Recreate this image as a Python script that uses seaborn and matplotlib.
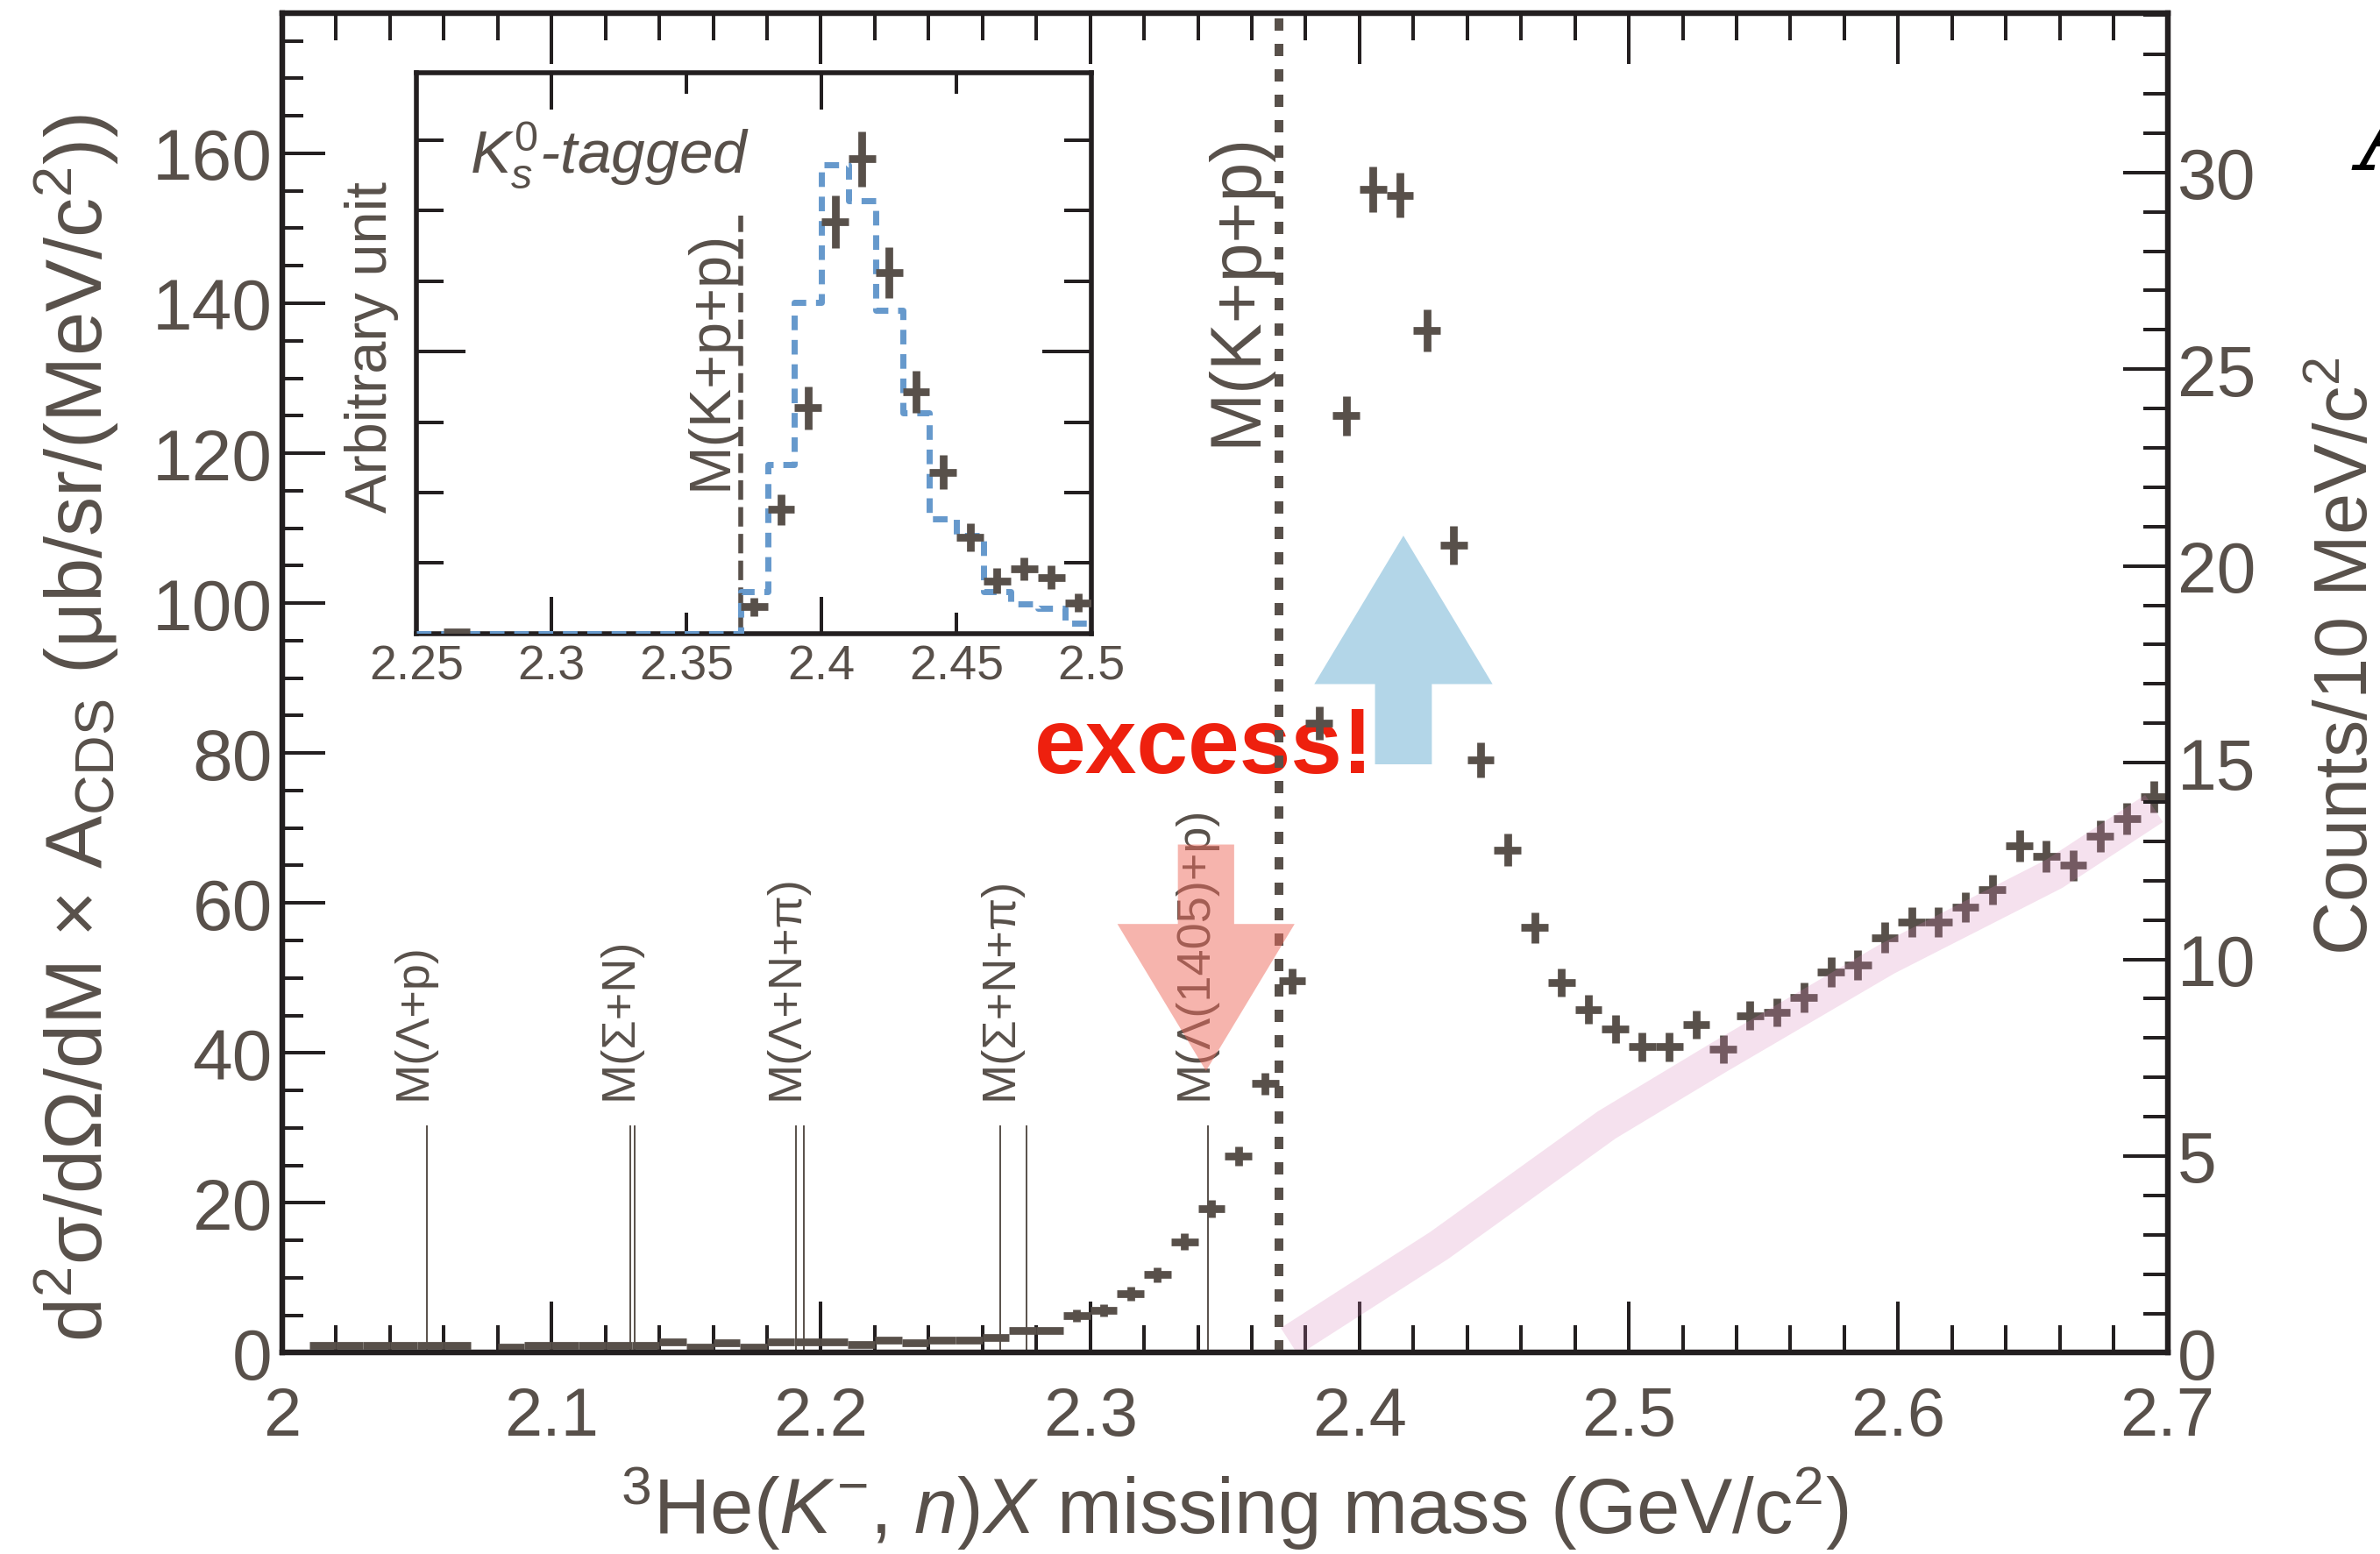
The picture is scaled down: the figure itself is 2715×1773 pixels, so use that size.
"""
Missing-mass spectrum of 3He(K-, n)X with K_s^0-tagged inset.
"""

import matplotlib
matplotlib.use("Agg")
import matplotlib.pyplot as plt
import seaborn as sns
from matplotlib.patches import FancyArrow
from matplotlib.ticker import MultipleLocator, FuncFormatter

# ── main spectrum (10 MeV bins) ─────────────────────────────────────────
mass = [2.005, 2.015, 2.025, 2.035, 2.045, 2.055, 2.065, 2.075, 2.085, 2.095,
        2.105, 2.115, 2.125, 2.135, 2.145, 2.155, 2.165, 2.175, 2.185, 2.195,
        2.205, 2.215, 2.225, 2.235, 2.245, 2.255, 2.265, 2.275, 2.285, 2.295,
        2.305, 2.315, 2.325, 2.335, 2.345, 2.355, 2.365, 2.375, 2.385, 2.395,
        2.405, 2.415, 2.425, 2.435, 2.445, 2.455, 2.465, 2.475, 2.485, 2.495,
        2.505, 2.515, 2.525, 2.535, 2.545, 2.555, 2.565, 2.575, 2.585, 2.595,
        2.605, 2.615, 2.625, 2.635, 2.645, 2.655, 2.665, 2.675, 2.685, 2.695]
xsec = [-0.3, 1.0, 1.0, 1.0, 1.0, 1.0, 1.0, -0.2, 0.7, 1.0,
        1.0, 1.0, 1.0, 1.0, 1.5, 0.7, 1.3, 0.7, 1.5, 1.5,
        1.5, 1.1, 1.7, 1.3, 1.7, 1.7, 2.0, 3.0, 3.0, 5.0,
        5.7, 7.9, 10.4, 14.8, 19.2, 26.2, 35.9, 49.6, 84.0, 125.0,
        155.2, 154.4, 136.4, 107.7, 79.1, 67.1, 56.7, 49.4, 45.8, 43.2,
        40.8, 40.8, 43.8, 40.5, 45.0, 45.4, 47.4, 50.8, 51.7, 55.4,
        57.5, 57.5, 59.4, 61.8, 67.6, 66.2, 65.0, 68.9, 71.3, 74.2]
xsec_err = [0.3] * 29 + [0.8, 0.8, 0.9, 1.0, 1.1, 1.2, 1.3, 1.5, 1.7, 2.2,
                         2.6, 3.0, 3.0, 2.8, 2.6, 2.3, 2.2, 2.0, 1.9, 1.9,
                         1.9, 1.9, 1.9, 1.9, 1.9, 1.9, 1.9, 2.0, 2.0, 2.0,
                         2.0, 2.0, 2.0, 2.0, 2.0, 2.1, 2.1, 2.1, 2.1, 2.1,
                         2.1]

# pink band (smooth background shape)
band_mass = [2.374, 2.4295, 2.4918, 2.5334, 2.5957, 2.658, 2.695]
band_xsec = [1.5, 14.3, 30.4, 39.4, 52.5, 63.9, 72.6]

# thresholds (GeV/c^2), grouped per label
thr_groups = [[2.0538], [2.1292, 2.1309], [2.1907, 2.1936],
              [2.2667, 2.2763], [2.3437]]
thr_labels = ["M(Λ+p)", "M(Σ+N)", "M(Λ+N+π)", "M(Σ+N+π)", "M(Λ(1405)+p)"]
thr_top = 30.3
kpp_mass = 2.370

# ── inset: K_s^0-tagged ────────────────────────────────────────────────
inset_mass = [2.265, 2.375, 2.385, 2.395, 2.405, 2.415, 2.425, 2.435,
              2.445, 2.455, 2.465, 2.475, 2.485, 2.495]
inset_counts = [0.03, 0.38, 1.76, 3.20, 5.84, 6.73, 5.12, 3.43,
                2.29, 1.37, 0.75, 0.92, 0.80, 0.44]
inset_err = [0.0, 0.13, 0.22, 0.30, 0.37, 0.39, 0.36, 0.30,
             0.24, 0.20, 0.18, 0.16, 0.17, 0.13]
inset_edges = [2.25, 2.37, 2.38, 2.39, 2.40, 2.41, 2.42, 2.43,
               2.44, 2.45, 2.46, 2.47, 2.48, 2.49, 2.50]
inset_template = [0.0, 0.59, 2.4, 4.7, 6.65, 6.14, 4.59, 3.13,
                  1.63, 1.39, 0.6, 0.42, 0.36, 0.15]

INK = "#58504a"
SPINE = "#231f20"
BLUE = "#b3d6e8"
RED = "#ee6a5c"
PINK = "#d47fb6"

sns.set_theme(style="ticks")
plt.rcParams["font.family"] = ["Liberation Sans", "DejaVu Sans"]
plt.rcParams["mathtext.fontset"] = "custom"
plt.rcParams["mathtext.rm"] = "Liberation Sans"
plt.rcParams["mathtext.it"] = "Liberation Sans:italic"
plt.rcParams["mathtext.bf"] = "Liberation Sans:bold"

fmt_g = FuncFormatter(lambda v, p: f"{v:g}")

fig = plt.figure(figsize=(27.15, 17.74), dpi=100)
ax = fig.add_axes([0.1186, 0.1294, 0.7921, 0.8616])

# thresholds
for grp, lbl in zip(thr_groups, thr_labels):
    ax.vlines(grp, 0, thr_top, color=INK, lw=1.4, zorder=2)
    ax.text(sum(grp) / len(grp) - 0.005, 33.8, lbl, rotation=90,
            ha="center", va="bottom", fontsize=39, color=INK, zorder=2)

ax.text(2.2793, 77.5, "excess!", color="#ee200e", fontsize=76,
        fontweight="bold", ha="left", va="baseline", zorder=2)

ax.axvline(kpp_mass, color=INK, lw=7.2, linestyle=(0, (1.4, 1.5)), zorder=3)
ax.text(kpp_mass - 0.0155, 121.1, "M(K+p+p)", rotation=90, ha="center",
        va="bottom", fontsize=58, color=INK, zorder=3)

ax.errorbar(mass, xsec, xerr=0.005, yerr=xsec_err, fmt="none", ecolor=INK,
            elinewidth=6.3, capsize=0, zorder=4)

sns.lineplot(x=band_mass, y=band_xsec, ax=ax, color=PINK, alpha=0.23,
             lw=26.6, solid_capstyle="butt", estimator=None, sort=False,
             legend=False, zorder=5)

ax.add_patch(FancyArrow(2.4163, 78.5, 0, 30.5, width=0.0211,
                        head_width=0.0662, head_length=19.8,
                        length_includes_head=True, color=BLUE, lw=0, zorder=3))
ax.add_patch(FancyArrow(2.343, 67.8, 0, -30.2, width=0.0209,
                        head_width=0.0658, head_length=19.6,
                        length_includes_head=True, color=RED, alpha=0.5,
                        lw=0, zorder=6))

ax.set_xlim(2.0, 2.7)
ax.set_ylim(0, 178.7)
ax.xaxis.set_major_locator(MultipleLocator(0.1))
ax.xaxis.set_minor_locator(MultipleLocator(0.02))
ax.xaxis.set_major_formatter(fmt_g)
ax.yaxis.set_major_locator(MultipleLocator(20))
ax.yaxis.set_minor_locator(MultipleLocator(5))
ax.tick_params(axis="x", which="major", direction="in", length=42, width=2.9,
               top=True, color=SPINE, labelcolor=INK, labelsize=56, pad=26)
ax.tick_params(axis="x", which="minor", direction="in", length=22, width=2.9,
               top=True, color=SPINE)
ax.tick_params(axis="y", which="major", direction="in", length=35, width=2.9,
               color=SPINE, labelcolor=INK, labelsize=59, pad=8)
ax.tick_params(axis="y", which="minor", direction="in", length=17, width=2.9,
               color=SPINE)
for s in ax.spines.values():
    s.set_linewidth(4.5)
    s.set_color(SPINE)

ax.set_xlabel(r"$^{3}$He($K^{-}$, $n$)$X$ missing mass (GeV/c$^{2}$)",
              fontsize=64, color=INK)
ax.xaxis.set_label_coords(0.505, -0.083)
ax.set_ylabel(r"d$^{2}$σ/dΩ/dM × A$_{\mathrm{CDS}}$ (μb/sr/(MeV/c$^{2}$))",
              fontsize=65, color=INK, va="center")
ax.yaxis.set_label_coords(-0.1093, 0.4668)

# right axis: counts
ax2 = ax.twinx()
ax2.set_ylim(0, 34.05)
ax2.yaxis.set_major_locator(MultipleLocator(5))
ax2.yaxis.set_minor_locator(MultipleLocator(1))
ax2.tick_params(axis="y", which="major", direction="in", length=37, width=2.9,
                color=SPINE, labelcolor=INK, labelsize=58, pad=8)
ax2.tick_params(axis="y", which="minor", direction="in", length=20, width=2.9,
                color=SPINE)
for s in ax2.spines.values():
    s.set_linewidth(4.5)
    s.set_color(SPINE)
ax2.set_ylabel(r"Counts/10 MeV/c$^{2}$", fontsize=61, color=INK, va="center")
ax2.yaxis.set_label_coords(1.096, 0.521)

# ── inset ──────────────────────────────────────────────────────────────
axin = fig.add_axes([0.1749, 0.5919, 0.2838, 0.3607])
axin.set_facecolor("white")
sns.lineplot(x=inset_edges, y=inset_template + inset_template[-1:], ax=axin,
             drawstyle="steps-post", color="#6699cc", lw=5,
             linestyle=(0, (2.4, 1.6)), estimator=None, sort=False,
             legend=False, zorder=3)
axin.vlines(kpp_mass, 0, 5.93, color=INK, lw=4, linestyles=(0, (4, 1.5)),
            zorder=2)
axin.errorbar(inset_mass, inset_counts, xerr=0.005, yerr=inset_err,
              fmt="none", ecolor=INK, elinewidth=6.3, capsize=0, zorder=4)
axin.text(kpp_mass - 0.0107, 2.05, "M(K+p+p)", rotation=90, ha="center",
          va="bottom", fontsize=48, color=INK)
axin.text(2.27, 6.54, r"$K^{\mathit{0}}_{s}$-tagged", style="italic",
          fontsize=50, color=INK, va="baseline")

axin.set_xlim(2.25, 2.5)
axin.set_ylim(0, 7.95)
axin.xaxis.set_major_locator(MultipleLocator(0.1))
axin.xaxis.set_minor_locator(MultipleLocator(0.05))
axin.xaxis.set_major_formatter(fmt_g)
axin.xaxis.set_minor_formatter(fmt_g)
axin.yaxis.set_major_locator(MultipleLocator(4))
axin.yaxis.set_minor_locator(MultipleLocator(1))
axin.tick_params(axis="x", which="both", direction="in", top=True,
                 color=SPINE, labelcolor=INK, labelsize=40, pad=8, width=2.9)
axin.tick_params(axis="x", which="major", length=30)
axin.tick_params(axis="x", which="minor", length=17)
axin.tick_params(axis="y", which="both", direction="in", right=True,
                 labelleft=False, color=SPINE, width=2.9)
axin.tick_params(axis="y", which="major", length=40)
axin.tick_params(axis="y", which="minor", length=22)
for s in axin.spines.values():
    s.set_linewidth(4)
    s.set_color(SPINE)
axin.set_xlabel("")
axin.set_ylabel("Arbitrary unit", fontsize=48, color=INK, va="center")
axin.yaxis.set_label_coords(-0.066, 0.512)

# panel letter, cut by the right edge as in the source figure
fig.text(0.9915, 0.8906, "A", fontsize=90, family="DejaVu Serif",
         style="italic", color="black", ha="left", va="baseline")

fig.savefig("out.png", dpi=100)
plt.close(fig)
